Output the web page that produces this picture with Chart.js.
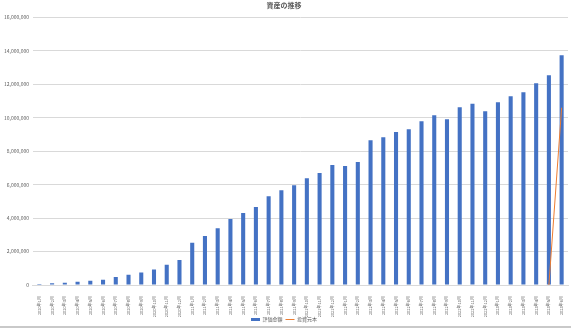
<!DOCTYPE html>
<html>
<head>
<meta charset="utf-8">
<script src="https://cdn.jsdelivr.net/npm/chart.js@4/dist/chart.umd.min.js"></script>
<style>
    body { margin: 0; background: #fff; }
    #wrap { position: relative; width: 571px; height: 329px; overflow: hidden; }
    #edge { position: absolute; left: 0; top: 326px; width: 571px; height: 2px; background: #c9c9c9; }
</style>
</head>
<body>
<div id="wrap">
    <canvas id="myChart" width="571" height="332"></canvas>
    <div id="edge"></div>
</div>
<script>
// 月 (2020年1月 ~ 2023年6月)
const months = [];
for (let y = 2020; y <= 2023; y++) {
    for (let m = 1; m <= 12; m++) {
        if (y === 2023 && m > 6) break;
        months.push(y + "年" + m + "月");
    }
}

// 評価金額
const valuation = [
    60000, 100000, 140000, 200000, 260000, 320000, 480000, 620000, 740000, 920000, 1210000, 1490000,
    2530000, 2930000, 3400000, 3940000, 4300000, 4660000, 5310000, 5670000, 5970000, 6390000, 6690000, 7170000,
    7110000, 7350000, 8660000, 8840000, 9150000, 9310000, 9790000, 10150000, 9910000, 10630000, 10830000, 10390000,
    10930000, 11290000, 11530000, 12060000, 12540000, 13730000
];

// 投資元本 (最後の2か月のみ)
const principal = [
    null, null, null, null, null, null, null, null, null, null, null, null,
    null, null, null, null, null, null, null, null, null, null, null, null,
    null, null, null, null, null, null, null, null, null, null, null, null,
    null, null, null, null, 0, 10600000
];

const seriesNames = ["評価金額", "投資元本"];
const yTicks = { min: 0, max: 16000000, step: 2000000 };

const font = "'Noto Sans CJK JP', 'Noto Sans', sans-serif";
const textColor = "#595959";

// x軸ラベルが切れないようにラベル領域を下まで広げる
const unclipLabels = {
    id: 'unclipLabels',
    afterLayout(chart) {
        chart.scales.x.bottom = chart.height;
    }
};

var ctx = document.getElementById('myChart').getContext('2d');

var myChart = new Chart(ctx, {
    data: {
        labels: months,
        datasets: [
            {
                type: 'bar',
                label: seriesNames[0],
                data: valuation,
                backgroundColor: '#4472C4',
                barPercentage: 0.32,
                categoryPercentage: 1,
                pointStyle: 'rect',
                order: 2
            },
            {
                type: 'line',
                label: seriesNames[1],
                data: principal,
                borderColor: '#ED7D31',
                backgroundColor: '#ED7D31',
                borderWidth: 1,
                pointRadius: 0,
                spanGaps: false,
                pointStyle: 'line',
                order: 1
            }
        ]
    },
    options: {
        responsive: false,
        animation: false,
        layout: {
            padding: { left: 0, right: 3, top: 1, bottom: 0 }
        },
        plugins: {
            title: {
                display: true,
                text: "資産の推移",
                color: textColor,
                font: { family: font, size: 7 },
                padding: { top: 0, bottom: 8 }
            },
            legend: {
                position: 'bottom',
                labels: {
                    usePointStyle: true,
                    pointStyleWidth: 9,
                    boxHeight: 3,
                    padding: 3,
                    color: textColor,
                    font: { family: font, size: 5 },
                    sort: (a, b) => a.datasetIndex - b.datasetIndex
                }
            },
            tooltip: { enabled: false }
        },
        scales: {
            x: {
                grid: { display: false },
                border: { color: '#d9d9d9' },
                afterFit: function (scale) { scale.height = 29; },
                ticks: {
                    autoSkip: false,
                    maxRotation: 90,
                    minRotation: 90,
                    padding: 3,
                    color: textColor,
                    font: { family: font, size: 4 }
                }
            },
            y: {
                min: yTicks.min,
                max: yTicks.max,
                border: { display: false },
                grid: { color: '#d9d9d9', drawTicks: false },
                ticks: {
                    stepSize: yTicks.step,
                    padding: 4,
                    color: textColor,
                    font: { family: font, size: 5 },
                    callback: function (v) { return v.toLocaleString('en-US'); }
                }
            }
        }
    },
    plugins: [unclipLabels]
});
</script>
</body>
</html>
